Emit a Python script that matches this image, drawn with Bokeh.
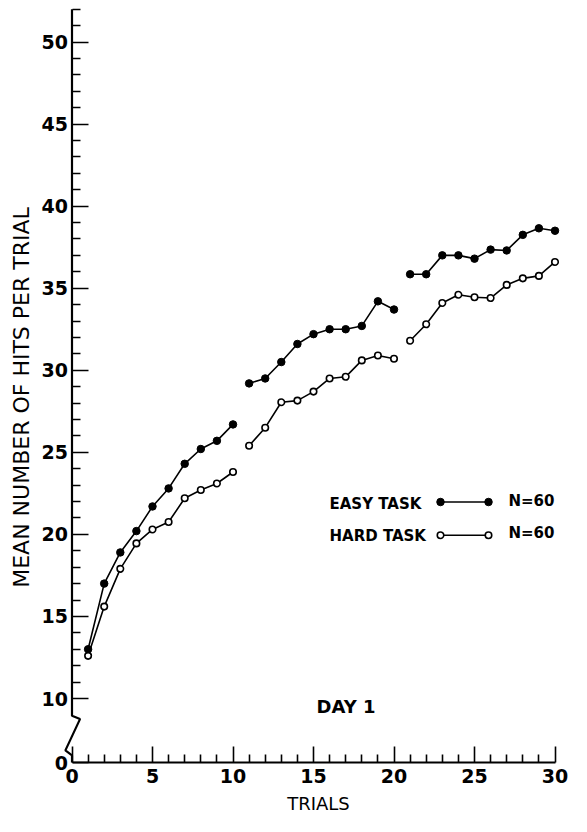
import math
from bokeh.plotting import figure
from bokeh.models import Range1d, FixedTicker, Label, CustomJSTickFormatter
from bokeh.embed import file_html
from bokeh.resources import INLINE

# ---------------- data ----------------
trials = list(range(1, 31))
easy_task = [13.0, 17.0, 18.9, 20.2, 21.7, 22.8, 24.3, 25.2, 25.7, 26.7,
             29.2, 29.5, 30.5, 31.6, 32.2, 32.5, 32.5, 32.7, 34.2, 33.7,
             35.85, 35.85, 37.0, 37.0, 36.8, 37.35, 37.3, 38.25, 38.65, 38.5]
hard_task = [12.6, 15.6, 17.9, 19.45, 20.3, 20.75, 22.2, 22.7, 23.1, 23.8,
             25.4, 26.5, 28.05, 28.15, 28.7, 29.5, 29.6, 30.6, 30.9, 30.7,
             31.8, 32.8, 34.1, 34.6, 34.45, 34.4, 35.2, 35.6, 35.75, 36.6]
blocks = [(1, 10), (11, 20), (21, 30)]
x_major = [0, 5, 10, 15, 20, 25, 30]
y_major = [10, 15, 20, 25, 30, 35, 40, 45, 50]
y_top = 52
legend_labels = ["EASY TASK", "HARD TASK"]
legend_n = ["N=60", "N=60"]
day_label = "DAY 1"
x_title = "TRIALS"
y_title = "MEAN NUMBER OF HITS PER TRIAL"

# ---------------- layout (pixels of the figure) ----------------
W, H = 571, 816
X0_PX, X30_PX = 71.5, 554.5
Y10_PX, Y50_PX = 698.0, 41.5
XS = (X30_PX - X0_PX) / 30.0
YS = (Y10_PX - Y50_PX) / 40.0


def X(px):
    return (px - X0_PX) / XS


def Y(py):
    return 10 + (Y10_PX - py) / YS


AXIS_PX = 762.0
BASE = Y(AXIS_PX)  # position where the broken axis shows "0"

p = figure(width=W, height=H, output_backend="svg", toolbar_location=None,
           x_range=Range1d(X(0), X(W)), y_range=Range1d(Y(H), Y(0)),
           min_border_left=0, min_border_right=0,
           min_border_top=0, min_border_bottom=0)
p.outline_line_color = None
p.grid.visible = False
p.background_fill_color = "white"
p.border_fill_color = "white"

FONT = "DejaVu Sans"

# x axis
xa = p.xaxis[0]
xa.ticker = FixedTicker(ticks=x_major,
                        minor_ticks=[t for t in range(0, 31) if t not in x_major])
xa.bounds = (0, 30)
xa.fixed_location = BASE
xa.axis_line_width = 2.2
xa.axis_line_color = "black"
xa.major_tick_in = 16
xa.major_tick_out = 0
xa.minor_tick_in = 8
xa.minor_tick_out = 0
xa.major_tick_line_width = 1.6
xa.minor_tick_line_width = 1.6
xa.major_label_text_font = FONT
xa.major_label_text_font_style = "bold"
xa.major_label_text_font_size = "19px"
xa.major_label_text_color = "black"
xa.major_label_standoff = 6

# y axis (broken)
ya = p.yaxis[0]
ya.ticker = FixedTicker(ticks=[BASE] + y_major,
                        minor_ticks=[t for t in range(10, y_top + 1) if t not in y_major])
ya.formatter = CustomJSTickFormatter(code="return tick < 9 ? '0' : Math.round(tick).toString();")
ya.fixed_location = 0
ya.axis_line_color = None
ya.major_tick_in = 16
ya.major_tick_out = 0
ya.minor_tick_in = 8
ya.minor_tick_out = 0
ya.major_tick_line_width = 1.6
ya.minor_tick_line_width = 1.6
ya.major_label_text_font = FONT
ya.major_label_text_font_style = "bold"
ya.major_label_text_font_size = "19px"
ya.major_label_text_color = "black"
ya.major_label_standoff = 4

# y axis line with break zig-zag
zig_px_x = [X0_PX, X0_PX, X0_PX, X0_PX + 8.0, X0_PX - 6.6, X0_PX, X0_PX]
zig_px_y = [None, Y10_PX, 715.3, 718.6, 749.9, 754.9, AXIS_PX]
zx = [X(v) for v in zig_px_x]
zy = [y_top] + [Y(v) for v in zig_px_y[1:]]
p.line(zx, zy, line_color="black", line_width=2.2)

# data
for a, b in blocks:
    p.line(trials[a - 1:b], easy_task[a - 1:b], line_color="black", line_width=1.6)
    p.line(trials[a - 1:b], hard_task[a - 1:b], line_color="black", line_width=1.6)
p.scatter(trials, easy_task, marker="circle", size=7.5, fill_color="black", line_color="black")
p.scatter(trials, hard_task, marker="circle", size=6.5, fill_color="white",
          line_color="black", line_width=1.6)

# legend (hand-drawn like the original)
leg_rows = [(503.5, 501.5, 500.6, True), (535.7, 534.7, 532.7, False)]
for (ty, ly, ny, filled), lab, n in zip(leg_rows, legend_labels, legend_n):
    p.add_layout(Label(x=X(329), y=Y(ty), text=lab, text_font=FONT, text_font_style="bold",
                       text_font_size="15px", text_align="left", text_baseline="middle",
                       text_color="black"))
    p.line([X(440), X(488)], [Y(ly), Y(ly)], line_color="black", line_width=1.4)
    if filled:
        p.scatter([X(440), X(488)], [Y(ly), Y(ly)], marker="circle", size=7.5,
                  fill_color="black", line_color="black")
    else:
        p.scatter([X(440), X(488)], [Y(ly), Y(ly)], marker="circle", size=6.5,
                  fill_color="white", line_color="black", line_width=1.6)
    p.add_layout(Label(x=X(508), y=Y(ny), text=n, text_font=FONT, text_font_style="bold",
                       text_font_size="15px", text_align="left", text_baseline="middle",
                       text_color="black"))

p.add_layout(Label(x=X(316), y=Y(706), text=day_label, text_font=FONT, text_font_style="bold",
                   text_font_size="18px", text_align="left", text_baseline="middle",
                   text_color="black"))

p.add_layout(Label(x=X(318), y=Y(803), text=x_title, text_font=FONT,
                   text_font_size="18px", text_align="center", text_baseline="alphabetic",
                   text_color="black"))

p.add_layout(Label(x=X(21), y=Y(397), text=y_title, text_font=FONT, angle=math.pi / 2,
                   text_font_size="22px", text_align="center", text_baseline="middle",
                   text_color="black"))

open("out.html", "w").write(file_html(p, INLINE))
